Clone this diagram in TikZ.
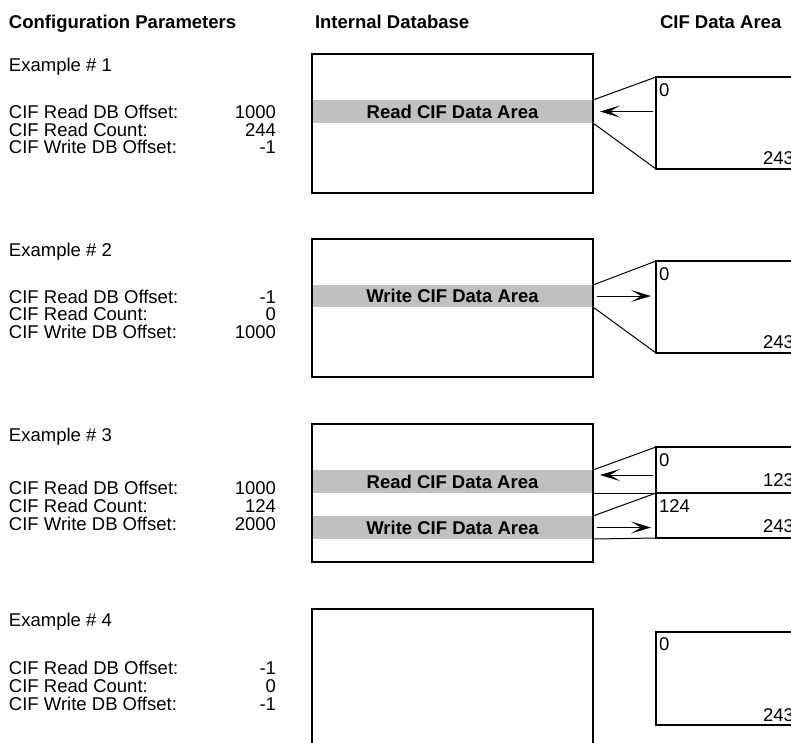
\documentclass[tikz,border=0pt]{standalone}
\usepackage{fontspec}
\setmainfont{Liberation Sans}
\usetikzlibrary{arrows.meta}
\definecolor{bandgray}{HTML}{C0C0C0}
\begin{document}
\begin{tikzpicture}[x=1pt,y=-1pt,
  every node/.style={inner sep=0pt, outer sep=0pt, font=\fontsize{18.5}{18.5}\selectfont},
  dbbox/.style={draw, line width=2pt, minimum width=281pt},
  band/.style={fill=bandgray, minimum width=281pt, minimum height=23pt, font=\fontsize{18.5}{18.5}\selectfont\bfseries},
  cifbox/.style={draw, line width=2pt, anchor=north west, minimum width=180pt},
  conn/.style={line width=1pt},
  arr/.style={line width=1pt, -{Stealth[length=20pt,width=12pt,inset=10pt]}},
  lbl/.style={anchor=base west},
  val/.style={anchor=base east},
  hdr/.style={anchor=base west, font=\fontsize{18.5}{18.5}\selectfont\bfseries}
]
\useasboundingbox (0,0) rectangle (791,742);
\clip (0,0) rectangle (791,742);

% headers
\node[hdr] (h1) at (9,28.6) {Configuration Parameters};
\node[hdr] (h2) at (315,28.6) {Internal Database};
\node[hdr] (h3) at (660,28.6) {CIF Data Area};

% ---------- Example 1 ----------
\node[lbl] (e1t) at (9,71.6) {Example \# 1};
\node[lbl] (e1a) at (9,118.6) {CIF Read DB Offset:};
\node[val] (e1av) at (276,118.6) {1000};
\node[lbl] (e1b) at (9,136.1) {CIF Read Count:};
\node[val] (e1bv) at (276,136.1) {244};
\node[lbl] (e1c) at (9,153.6) {CIF Write DB Offset:};
\node[val] (e1cv) at (276,153.6) {-1};

\node[band] (band1) at (452.5,111.5) {Read CIF Data Area};
\node[dbbox, minimum height=139pt] (db1) at (452.5,123.5) {};
\node[cifbox, minimum height=92pt] (cif1) at (656,77) {};
\node[lbl] (c1a) at (659,96) {0};
\node[lbl] (c1b) at (763,164) {243};
\draw[conn] (band1.north east) -- (cif1.north west);
\draw[conn] (band1.south east) -- (cif1.south west);
\draw[arr] ([xshift=-3pt]band1.east -| cif1.west) -- ([xshift=7pt]band1.east);

% ---------- Example 2 ----------
\node[lbl] (e2t) at (9,256.6) {Example \# 2};
\node[lbl] (e2a) at (9,303.1) {CIF Read DB Offset:};
\node[val] (e2av) at (276,303.1) {-1};
\node[lbl] (e2b) at (9,320.6) {CIF Read Count:};
\node[val] (e2bv) at (276,320.6) {0};
\node[lbl] (e2c) at (9,338.1) {CIF Write DB Offset:};
\node[val] (e2cv) at (276,338.1) {1000};

\node[band, minimum height=22pt] (band2) at (452.5,296) {Write CIF Data Area};
\node[dbbox, minimum height=138pt] (db2) at (452.5,308) {};
\node[cifbox, minimum height=92pt] (cif2) at (656,261) {};
\node[lbl] (c2a) at (659,280) {0};
\node[lbl] (c2b) at (763,348) {243};
\draw[conn] (band2.north east) -- (cif2.north west);
\draw[conn] (band2.south east) -- (cif2.south west);
\draw[arr] ([xshift=4pt]band2.east) -- ([xshift=-5pt]band2.east -| cif2.west);

% ---------- Example 3 ----------
\node[lbl] (e3t) at (9,441.6) {Example \# 3};
\node[lbl] (e3a) at (9,494.6) {CIF Read DB Offset:};
\node[val] (e3av) at (276,494.6) {1000};
\node[lbl] (e3b) at (9,512.6) {CIF Read Count:};
\node[val] (e3bv) at (276,512.6) {124};
\node[lbl] (e3c) at (9,530.6) {CIF Write DB Offset:};
\node[val] (e3cv) at (276,530.6) {2000};

\node[band] (band3a) at (452.5,481.5) {Read CIF Data Area};
\node[band] (band3b) at (452.5,527.5) {Write CIF Data Area};
\node[dbbox, minimum height=138pt] (db3) at (452.5,493) {};
\node[cifbox, minimum height=46pt] (cif3a) at (656,447) {};
\node[cifbox, minimum height=45pt] (cif3b) at (656,493) {};
\node[lbl] (c3a) at (659,466) {0};
\node[lbl] (c3b) at (763,486) {123};
\node[lbl] (c3c) at (659,512) {124};
\node[lbl] (c3d) at (763,532) {243};
\draw[conn] (band3a.north east) -- (cif3a.north west);
\draw[conn] (band3a.south east) -- (cif3a.south west);
\draw[conn] (band3b.north east) -- (cif3b.north west);
\draw[conn] (band3b.south east) -- (cif3b.south west);
\draw[arr] ([xshift=-3pt,yshift=6.5pt]band3a.east -| cif3a.west) -- ([xshift=7pt,yshift=6.5pt]band3a.east);
\draw[arr] ([xshift=4pt]band3b.east) -- ([xshift=-5pt]band3b.east -| cif3b.west);

% ---------- Example 4 ----------
\node[lbl] (e4t) at (9,626.6) {Example \# 4};
\node[lbl] (e4a) at (9,674.6) {CIF Read DB Offset:};
\node[val] (e4av) at (276,674.6) {-1};
\node[lbl] (e4b) at (9,692.6) {CIF Read Count:};
\node[val] (e4bv) at (276,692.6) {0};
\node[lbl] (e4c) at (9,710.6) {CIF Write DB Offset:};
\node[val] (e4cv) at (276,710.6) {-1};

\node[dbbox, minimum height=138pt] (db4) at (452.5,678) {};
\node[cifbox, minimum height=93pt] (cif4) at (656,632) {};
\node[lbl] (c4a) at (659,650) {0};
\node[lbl] (c4b) at (763,721) {243};
\end{tikzpicture}
\end{document}
